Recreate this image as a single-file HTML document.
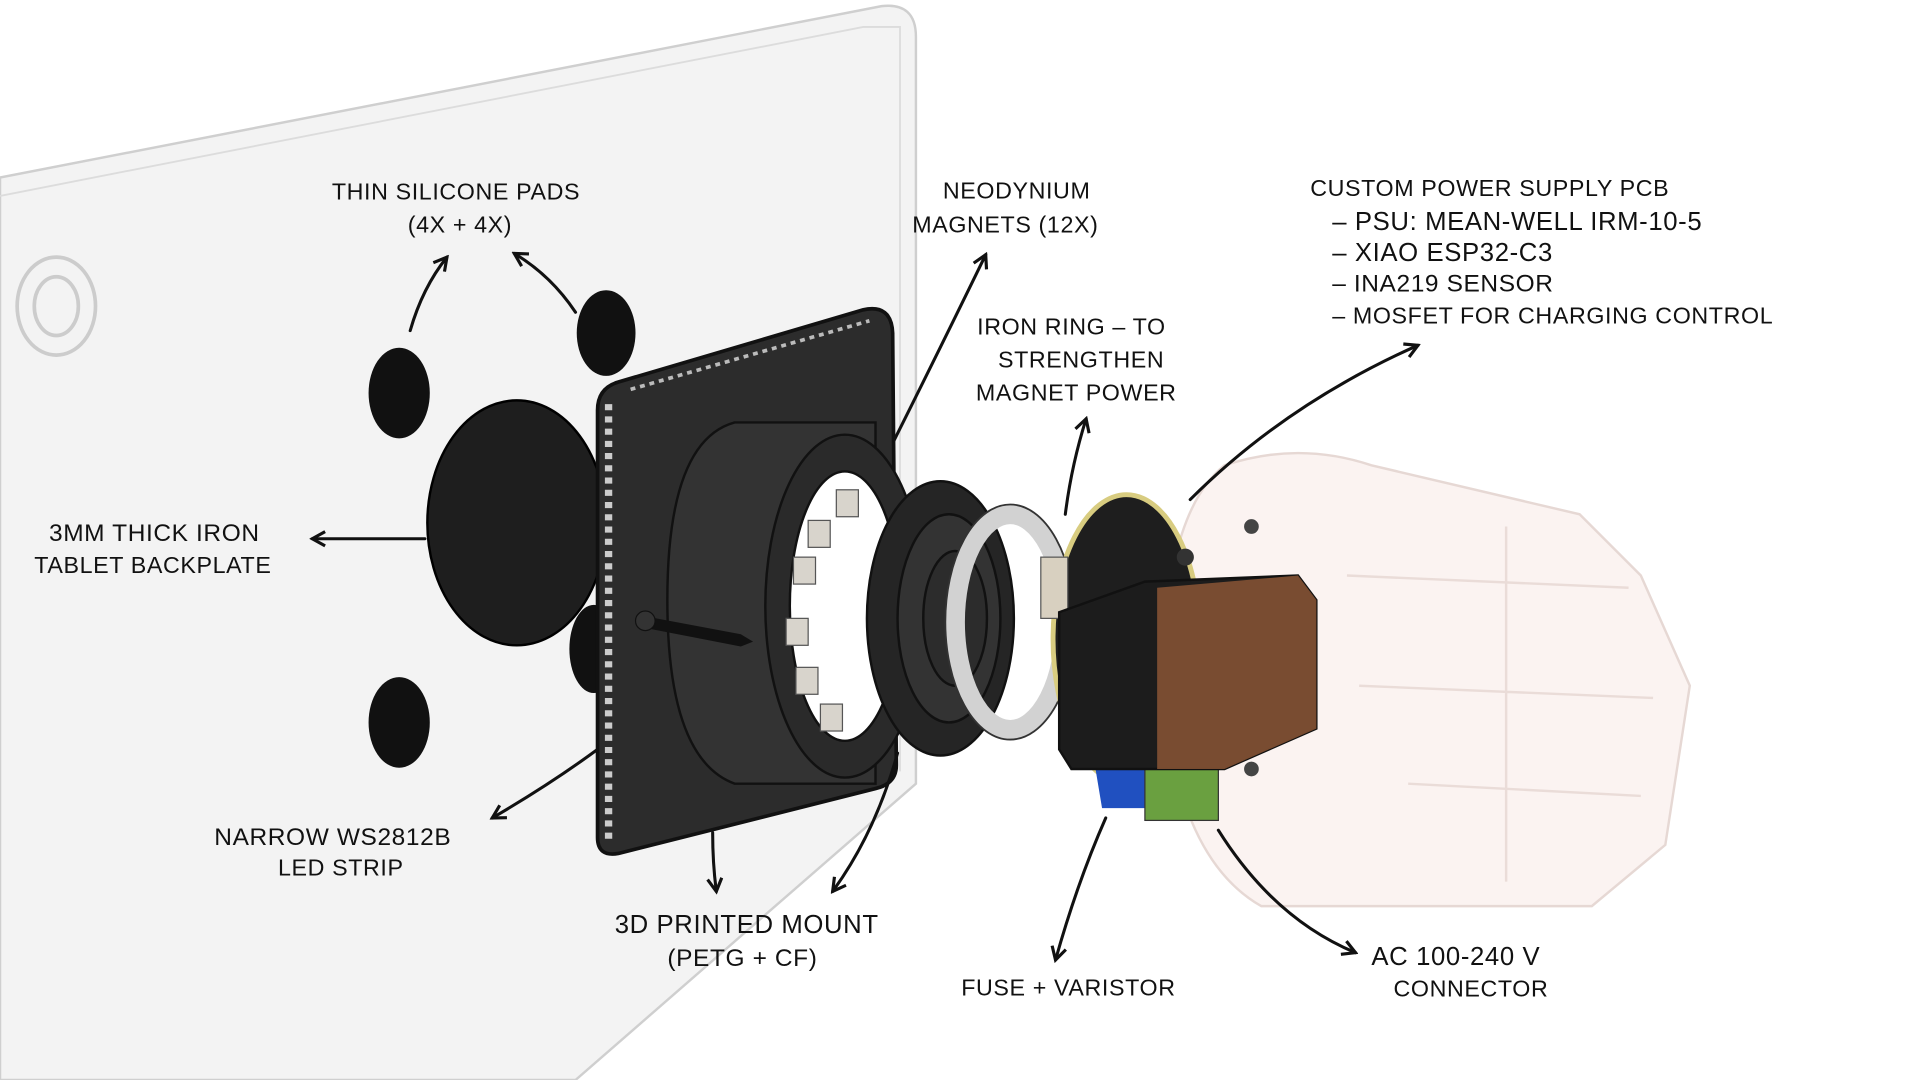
<!DOCTYPE html>
<html><head><meta charset="utf-8"><style>
html,body{margin:0;padding:0;background:#fff;width:1920px;height:1080px;overflow:hidden}
svg{display:block}
text{font-family:"Liberation Sans",sans-serif;font-size:19px;fill:#111;letter-spacing:0.5px}
</style></head><body>
<svg width="1920" height="1080" viewBox="0 0 1568 882" xmlns="http://www.w3.org/2000/svg">
<defs>
<marker id="a" viewBox="0 0 12 12" refX="10" refY="6" markerWidth="14" markerHeight="14" orient="auto" markerUnits="userSpaceOnUse">
<path d="M1 1 L10 6 L1 11" fill="none" stroke="#111" stroke-width="2.2"/></marker>
</defs>
<rect width="1568" height="882" fill="#fff"/>
<!-- backplate -->
<path d="M0 145 L720 5 Q748 2 748 30 L748 640 L470 882 L0 882 Z" fill="#f3f3f3" stroke="#cfcfcf" stroke-width="2"/>
<path d="M0 160 L705 22 L735 22 L735 630" fill="none" stroke="#dcdcdc" stroke-width="1.5"/>
<ellipse cx="46" cy="250" rx="32" ry="40" fill="none" stroke="#ccc" stroke-width="3"/>
<ellipse cx="46" cy="250" rx="18" ry="24" fill="none" stroke="#ccc" stroke-width="3"/>
<!-- pads -->
<ellipse cx="326" cy="321" rx="25" ry="37" fill="#111"/>
<ellipse cx="495" cy="272" rx="24" ry="35" fill="#111"/>
<ellipse cx="326" cy="590" rx="25" ry="37" fill="#111"/>
<ellipse cx="485" cy="530" rx="20" ry="36" fill="#111"/>
<ellipse cx="422" cy="427" rx="73" ry="100" fill="#1e1e1e" stroke="#000" stroke-width="2"/>
<!-- mount plate -->
<path d="M505 312 L705 253 Q728 248 729 272 L732 625 Q732 640 715 644 L505 697 Q488 700 488 684 L488 335 Q488 317 505 312 Z" fill="#2c2c2c" stroke="#111" stroke-width="3"/>
<path d="M497 330 L497 690" stroke="#ccc" stroke-width="6" stroke-dasharray="5 5"/>
<path d="M515 318 L710 262" stroke="#bbb" stroke-width="3" stroke-dasharray="4 4"/>
<!-- cylinder -->
<path d="M600 345 L715 345 L715 640 L600 640 Q545 620 545 490 Q545 360 600 345 Z" fill="#333" stroke="#111" stroke-width="2"/>
<ellipse cx="690" cy="495" rx="65" ry="140" fill="#2a2a2a" stroke="#111" stroke-width="2"/>
<ellipse cx="690" cy="495" rx="45" ry="110" fill="#fff" stroke="#111" stroke-width="2"/>
<g fill="#d8d4cc" stroke="#555">
<rect x="683" y="400" width="18" height="22"/><rect x="660" y="425" width="18" height="22"/>
<rect x="648" y="455" width="18" height="22"/><rect x="642" y="505" width="18" height="22"/>
<rect x="650" y="545" width="18" height="22"/><rect x="670" y="575" width="18" height="22"/>
</g>
<path d="M525 503 L605 518 L615 524 L605 528 L523 512 Z" fill="#111"/>
<circle cx="527" cy="507" r="8" fill="#333" stroke="#111"/>
<!-- bearing -->
<ellipse cx="768" cy="505" rx="60" ry="112" fill="#252525" stroke="#111" stroke-width="2"/>
<ellipse cx="775" cy="505" rx="42" ry="85" fill="#333" stroke="#111" stroke-width="2"/>
<ellipse cx="780" cy="505" rx="26" ry="55" fill="#2c2c2c" stroke="#111" stroke-width="2"/>
<!-- iron ring -->
<ellipse cx="825" cy="508" rx="45" ry="88" fill="none" stroke="#d2d2d2" stroke-width="16"/>
<ellipse cx="825" cy="508" rx="53" ry="96" fill="none" stroke="#333" stroke-width="1.5"/>
<!-- housing ghost -->
<path d="M1000 380 Q1060 360 1120 380 L1290 420 L1340 470 L1380 560 L1360 690 L1300 740 L1030 740 Q960 700 950 560 Q950 420 1000 380 Z" fill="#fbf3f1" stroke="#e6d8d4" stroke-width="2"/>
<path d="M1100 470 L1330 480 M1110 560 L1350 570 M1150 640 L1340 650 M1230 430 L1230 720" stroke="#eadcd8" stroke-width="2" fill="none"/>
<!-- pcb -->
<ellipse cx="920" cy="522" rx="60" ry="118" fill="#1e1e1e" stroke="#d8cc80" stroke-width="4"/>
<rect x="850" y="455" width="22" height="50" fill="#d8d0c0" stroke="#555"/>
<path d="M890 600 Q930 630 960 600 L960 660 L900 660 Z" fill="#2050c0"/>
<rect x="935" y="625" width="60" height="45" fill="#6aa040" stroke="#333"/>
<!-- black box + brown -->
<path d="M865 500 L935 475 L1060 470 L1075 490 L1075 595 L1000 628 L875 628 L865 612 Z" fill="#1c1c1c" stroke="#111" stroke-width="2"/>
<path d="M945 480 L1060 470 L1075 490 L1075 595 L1000 628 L945 628 Z" fill="#8a5535" opacity="0.85"/>
<circle cx="968" cy="455" r="7" fill="#333"/><circle cx="1022" cy="430" r="6" fill="#444"/>
<circle cx="1022" cy="628" r="6" fill="#444"/>
<!-- labels -->
<text x="271" y="163">THIN SILICONE PADS</text>
<text x="333" y="190">(4X + 4X)</text>
<text x="770" y="162">NEODYNIUM</text>
<text x="745" y="190">MAGNETS (12X)</text>
<text x="798" y="273">IRON RING – TO</text>
<text x="815" y="300">STRENGTHEN</text>
<text x="797" y="327">MAGNET POWER</text>
<text x="1070" y="160">CUSTOM POWER SUPPLY PCB</text>
<text x="1088" y="188" style="font-size:21px">– PSU: MEAN-WELL IRM-10-5</text>
<text x="1088" y="213" style="font-size:21px">– XIAO ESP32-C3</text>
<text x="1088" y="238" style="font-size:20px">– INA219 SENSOR</text>
<text x="1088" y="264" style="font-size:19px">– MOSFET FOR CHARGING CONTROL</text>
<text x="40" y="442" style="font-size:20px">3MM THICK IRON</text>
<text x="28" y="468" style="font-size:19px">TABLET BACKPLATE</text>
<text x="175" y="690" style="font-size:20px">NARROW WS2812B</text>
<text x="227" y="715">LED STRIP</text>
<text x="502" y="762" style="font-size:21px">3D PRINTED MOUNT</text>
<text x="545" y="789" style="font-size:20px">(PETG + CF)</text>
<text x="785" y="813">FUSE + VARISTOR</text>
<text x="1120" y="788" style="font-size:21px">AC 100-240 V</text>
<text x="1138" y="814">CONNECTOR</text>
<!-- arrows -->
<g fill="none" stroke="#111" stroke-width="2.5" stroke-linecap="round" marker-end="url(#a)">
<path d="M335 270 Q345 235 365 210"/>
<path d="M470 255 Q450 225 420 207"/>
<path d="M730 360 Q770 280 805 208"/>
<path d="M870 420 Q875 380 887 342"/>
<path d="M972 408 Q1050 330 1158 282"/>
<path d="M347 440 L255 440"/>
<path d="M488 612 Q450 640 402 668"/>
<path d="M582 680 Q582 705 585 728"/>
<path d="M733 615 Q715 680 680 728"/>
<path d="M903 668 Q880 720 862 784"/>
<path d="M995 678 Q1040 750 1107 778"/>
</g>
</svg>
</body></html>
